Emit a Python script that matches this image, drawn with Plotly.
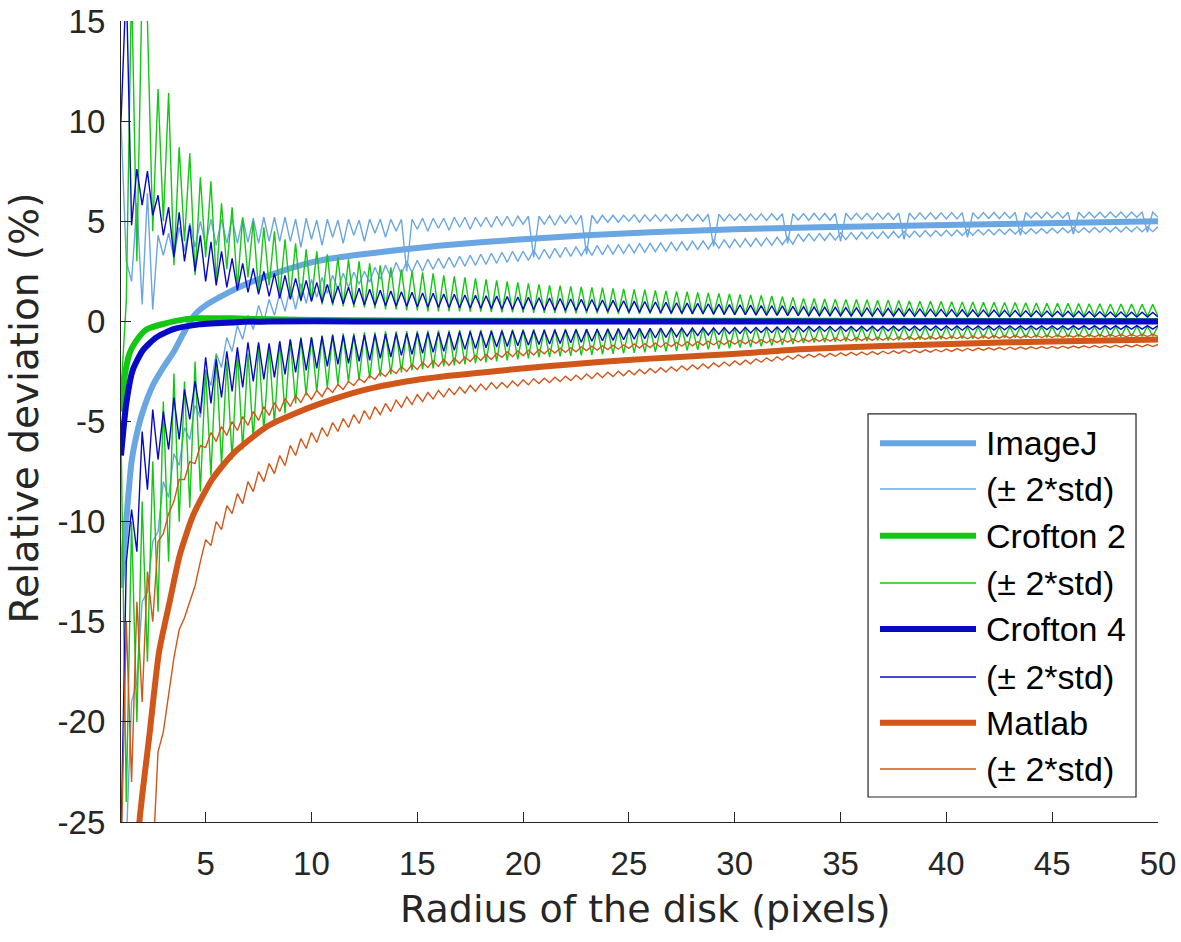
import numpy as np
import plotly.graph_objects as go

# ---------- data ----------
# std bands are sampled every 0.25 px of radius, 1 .. 50 (197 points)
RADIUS = np.arange(1.0, 50.0001, 0.25)

# ImageJ
IJ_MEAN_X = [1, 1.25, 1.5, 1.75, 2, 2.5, 3, 3.5, 4, 4.5, 5, 6, 7, 8, 9, 10, 11, 12,
             14, 16, 18, 20, 23, 26, 30, 34, 38, 42, 46, 50]
IJ_MEAN = [-13.3, -9.9, -7.0, -5.6, -4.6, -3.2, -2.3, -1.5, -0.5, 0.35, 0.8, 1.4, 1.9, 2.3,
           2.65, 2.95, 3.15, 3.3, 3.55, 3.78, 3.95, 4.1, 4.3, 4.45, 4.6, 4.7, 4.78, 4.85,
           4.92, 5.0]
IJ_UP = [
    10.0, 3.0, 2.0, 5.9, 0.85, 6.4, 0.6, 4.3,
    3.3, 4.4, 3.2, 4.7, 3.5, 4.9, 3.7, 5.0,
    3.8, 5.1, 3.8, 5.1, 3.9, 5.15, 3.9, 5.15,
    3.95, 5.15, 3.9, 5.2, 4.0, 5.2, 4.0, 5.2,
    4.0, 5.1, 3.7, 5.15, 4.1, 5.05, 3.8, 5.1,
    4.2, 5.05, 3.9, 5.1, 4.3, 5.05, 4.0, 5.1,
    4.4, 5.1, 4.2, 5.1, 4.5, 5.1, 2.5, 5.1,
    4.6, 5.15, 4.5, 5.15, 4.65, 5.15, 4.55, 5.2,
    4.7, 5.2, 4.6, 5.2, 4.75, 5.2, 4.7, 5.25,
    4.8, 5.25, 4.75, 5.25, 4.85, 5.25, 3.2, 5.25,
    4.85, 5.28, 4.8, 5.28, 4.9, 5.28, 4.85, 5.3,
    3.35, 5.3, 4.9, 5.3, 4.95, 5.3, 4.95, 5.3,
    5.0, 5.32, 4.95, 5.32, 5.0, 5.32, 5.0, 5.33,
    5.0, 5.33, 5.0, 5.34, 5.02, 5.34, 5.0, 5.35,
    3.75, 5.35, 5.02, 5.35, 5.05, 5.36, 5.03, 5.36,
    5.05, 5.37, 5.04, 5.37, 5.06, 5.38, 3.9, 5.38,
    5.06, 5.38, 5.05, 5.39, 5.07, 5.39, 5.06, 5.39,
    4.0, 5.4, 5.08, 5.4, 5.09, 5.4, 5.08, 5.41,
    5.1, 5.41, 5.09, 5.41, 4.1, 5.41, 5.1, 5.42,
    5.12, 5.42, 5.11, 5.42, 5.12, 5.43, 5.12, 5.43,
    4.2, 5.43, 5.13, 5.43, 5.14, 5.44, 5.13, 5.44,
    5.15, 5.44, 4.3, 5.44, 5.16, 5.44, 5.15, 5.45,
    5.17, 5.45, 5.16, 5.45, 4.35, 5.45, 5.17, 5.45,
    5.18, 5.45, 5.18, 5.46, 5.19, 5.46, 5.18, 5.46,
    5.2, 5.46, 4.45, 5.46, 5.2,
]
IJ_LO = [
    -30.0, -26.0, -19.0, -18.0, -14.0, -13.5, -11.0, -10.5,
    -8.0, -8.8, -6.6, -7.2, -5.3, -5.9, -4.2, -4.8,
    -2.5, -3.2, -1.6, -2.3, -0.8, -1.5, -0.2, -0.9,
    0.3, -0.4, 0.8, 0.0, 1.1, 0.3, 1.4, 0.5,
    1.7, 0.6, 1.9, 0.9, 2.1, 1.2, 2.2, 1.4,
    2.3, 1.6, 2.4, 1.7, 2.45, 1.85, 2.5, 1.95,
    2.7, 2.1, 2.8, 2.2, 2.95, 2.35, 3.0, 2.45,
    3.05, 2.5, 3.1, 2.6, 3.15, 2.65, 3.2, 2.7,
    3.25, 2.75, 3.3, 2.8, 3.35, 2.85, 3.4, 2.9,
    3.45, 2.95, 3.5, 3.0, 3.5, 3.05, 3.55, 3.1,
    3.6, 3.15, 3.65, 3.2, 3.7, 3.25, 3.72, 3.28,
    3.75, 3.3, 3.78, 3.33, 3.8, 3.36, 3.82, 3.39,
    3.85, 3.42, 3.88, 3.45, 3.9, 3.48, 3.92, 3.5,
    3.95, 3.53, 3.97, 3.56, 4.0, 3.59, 4.02, 3.62,
    4.05, 3.65, 4.07, 3.68, 4.1, 3.71, 4.12, 3.74,
    4.15, 3.77, 4.17, 3.8, 4.2, 3.83, 4.22, 3.86,
    4.35, 4.0, 4.37, 4.02, 4.38, 4.04, 4.4, 4.06,
    4.42, 4.08, 4.43, 4.1, 4.45, 4.12, 4.46, 4.14,
    4.48, 4.16, 4.49, 4.18, 4.5, 4.2, 4.51, 4.22,
    4.53, 4.24, 4.54, 4.26, 4.55, 4.27, 4.56, 4.29,
    4.57, 4.3, 4.58, 4.32, 4.59, 4.33, 4.6, 4.35,
    4.61, 4.36, 4.62, 4.37, 4.63, 4.39, 4.64, 4.4,
    4.65, 4.41, 4.66, 4.42, 4.67, 4.43, 4.68, 4.44,
    4.69, 4.45, 4.7, 4.46, 4.71, 4.46, 4.71, 4.47,
    4.72, 4.47, 4.72, 4.48, 4.72,
]

# Crofton 2
C2_MEAN_X = [1, 1.15, 1.4, 1.7, 2.2, 3.1, 4, 4.7, 6.3, 8, 12, 20, 30, 40, 50]
C2_MEAN = [-4.5, -2.9, -1.6, -1.0, -0.4, -0.1, 0.1, 0.15, 0.15, 0.1, 0.05, 0.03, 0.03,
           0.02, 0.02]
C2_UP = [
    -3.5, 1.0, 17.0, 3.0, 17.0, 15.0, 4.5, 11.6,
    5.0, 11.4, 2.8, 8.7, 4.0, 8.4, 2.3, 7.2,
    3.2, 7.0, 2.0, 5.9, 2.6, 5.7, 1.7, 5.2,
    2.2, 5.0, 1.5, 4.7, 1.8, 4.5, 1.3, 4.1,
    1.3, 3.9, 1.0, 3.6, 1.0, 3.5, 0.85, 3.35,
    0.8, 3.2, 0.75, 3.1, 0.7, 3.0, 0.7, 2.9,
    0.65, 2.8, 0.6, 2.7, 0.6, 2.6, 0.55, 2.5,
    0.55, 2.45, 0.5, 2.4, 0.5, 2.3, 0.5, 2.25,
    0.5, 2.2, 0.48, 2.15, 0.48, 2.1, 0.46, 2.05,
    0.45, 2.0, 0.45, 1.95, 0.44, 1.9, 0.43, 1.85,
    0.42, 1.8, 0.42, 1.78, 0.41, 1.75, 0.4, 1.72,
    0.4, 1.7, 0.4, 1.68, 0.39, 1.65, 0.38, 1.62,
    0.38, 1.6, 0.37, 1.58, 0.37, 1.55, 0.36, 1.52,
    0.36, 1.5, 0.35, 1.48, 0.35, 1.45, 0.35, 1.42,
    0.34, 1.4, 0.34, 1.37, 0.34, 1.35, 0.33, 1.32,
    0.33, 1.3, 0.33, 1.27, 0.32, 1.23, 0.32, 1.2,
    0.32, 1.15, 0.32, 1.14, 0.31, 1.12, 0.31, 1.11,
    0.31, 1.1, 0.31, 1.09, 0.3, 1.08, 0.3, 1.06,
    0.3, 1.05, 0.3, 1.04, 0.3, 1.02, 0.3, 1.01,
    0.3, 1.0, 0.3, 0.99, 0.29, 0.98, 0.29, 0.97,
    0.29, 0.97, 0.29, 0.96, 0.29, 0.95, 0.29, 0.94,
    0.28, 0.94, 0.28, 0.93, 0.28, 0.92, 0.28, 0.91,
    0.28, 0.9, 0.28, 0.9, 0.27, 0.89, 0.27, 0.88,
    0.27, 0.88, 0.27, 0.87, 0.27, 0.86, 0.27, 0.86,
    0.26, 0.85, 0.26, 0.85, 0.26,
]
C2_LO = [
    -5.5, -24.0, -10.0, -20.0, -9.0, -17.0, -7.0, -14.5,
    -4.0, -12.0, -2.6, -10.0, -3.0, -9.3, -2.0, -8.5,
    -2.4, -7.7, -1.7, -7.2, -2.0, -6.9, -1.5, -6.4,
    -1.6, -5.9, -1.2, -5.5, -1.3, -5.1, -1.0, -4.6,
    -0.95, -4.1, -0.8, -3.7, -0.8, -3.5, -0.7, -3.3,
    -0.65, -3.15, -0.6, -3.05, -0.6, -2.95, -0.55, -2.85,
    -0.55, -2.75, -0.5, -2.65, -0.5, -2.55, -0.48, -2.45,
    -0.47, -2.4, -0.46, -2.35, -0.45, -2.25, -0.45, -2.2,
    -0.44, -2.15, -0.43, -2.1, -0.42, -2.05, -0.42, -2.0,
    -0.41, -1.95, -0.4, -1.9, -0.4, -1.85, -0.39, -1.8,
    -0.39, -1.78, -0.38, -1.75, -0.38, -1.72, -0.37, -1.7,
    -0.37, -1.67, -0.36, -1.65, -0.36, -1.62, -0.35, -1.6,
    -0.35, -1.57, -0.35, -1.55, -0.34, -1.52, -0.34, -1.5,
    -0.34, -1.47, -0.33, -1.45, -0.33, -1.42, -0.33, -1.4,
    -0.32, -1.37, -0.32, -1.34, -0.32, -1.31, -0.31, -1.28,
    -0.31, -1.25, -0.31, -1.21, -0.3, -1.17, -0.3, -1.13,
    -0.3, -1.08, -0.3, -1.06, -0.3, -1.04, -0.29, -1.02,
    -0.29, -1.0, -0.29, -0.99, -0.29, -0.98, -0.28, -0.96,
    -0.28, -0.95, -0.28, -0.94, -0.28, -0.92, -0.28, -0.91,
    -0.28, -0.9, -0.27, -0.89, -0.27, -0.88, -0.27, -0.87,
    -0.27, -0.86, -0.27, -0.85, -0.26, -0.84, -0.26, -0.83,
    -0.26, -0.82, -0.26, -0.81, -0.26, -0.8, -0.25, -0.8,
    -0.25, -0.79, -0.25, -0.78, -0.25, -0.78, -0.25, -0.77,
    -0.25, -0.77, -0.24, -0.76, -0.24, -0.76, -0.24, -0.75,
    -0.24, -0.75, -0.24, -0.74, -0.24,
]

# Crofton 4
C4_MEAN_X = [1, 1.25, 1.55, 2.03, 2.67, 3.45, 4.7, 6.3, 8, 12, 20, 30, 40, 50]
C4_MEAN = [-6.7, -4.1, -2.45, -1.45, -0.8, -0.4, -0.15, -0.05, 0.0, 0.0, 0.0, 0.0, 0.0, 0.0]
C4_UP = [
    10.0, 17.0, 4.8, 7.6, 5.8, 7.5, 5.3, 6.3,
    4.3, 5.7, 3.2, 5.45, 3.0, 4.8, 2.5, 4.3,
    2.0, 3.97, 1.8, 3.5, 1.7, 3.15, 1.55, 2.9,
    1.45, 2.65, 1.35, 2.5, 1.25, 2.4, 1.15, 2.3,
    1.1, 2.15, 1.05, 2.05, 1.0, 1.95, 0.95, 1.85,
    0.9, 1.75, 0.88, 1.7, 0.85, 1.65, 0.82, 1.6,
    0.8, 1.55, 0.78, 1.52, 0.76, 1.48, 0.75, 1.45,
    0.73, 1.42, 0.72, 1.4, 0.7, 1.37, 0.69, 1.35,
    0.68, 1.32, 0.67, 1.3, 0.66, 1.28, 0.65, 1.26,
    0.62, 1.24, 0.61, 1.22, 0.6, 1.2, 0.59, 1.18,
    0.57, 1.16, 0.56, 1.14, 0.55, 1.12, 0.54, 1.1,
    0.52, 1.09, 0.51, 1.07, 0.5, 1.05, 0.49, 1.03,
    0.46, 1.01, 0.45, 0.99, 0.44, 0.97, 0.43, 0.95,
    0.41, 0.93, 0.4, 0.91, 0.39, 0.9, 0.38, 0.88,
    0.36, 0.86, 0.35, 0.84, 0.34, 0.83, 0.33, 0.81,
    0.31, 0.79, 0.3, 0.78, 0.3, 0.77, 0.29, 0.75,
    0.28, 0.73, 0.27, 0.72, 0.27, 0.71, 0.27, 0.7,
    0.27, 0.69, 0.26, 0.68, 0.26, 0.67, 0.26, 0.66,
    0.26, 0.65, 0.26, 0.64, 0.25, 0.63, 0.25, 0.62,
    0.25, 0.61, 0.25, 0.6, 0.25, 0.59, 0.24, 0.58,
    0.24, 0.57, 0.24, 0.56, 0.24, 0.56, 0.24, 0.55,
    0.23, 0.54, 0.23, 0.53, 0.23, 0.53, 0.23, 0.52,
    0.23, 0.51, 0.23, 0.5, 0.22, 0.5, 0.22, 0.49,
    0.22, 0.48, 0.22, 0.47, 0.22, 0.47, 0.22, 0.46,
    0.22, 0.46, 0.22, 0.45, 0.22,
]
C4_LO = [
    -26.0, -12.0, -9.4, -11.5, -5.5, -8.4, -4.4, -6.9,
    -4.5, -6.4, -3.8, -5.9, -3.4, -4.9, -3.0, -4.6,
    -1.8, -4.1, -1.9, -3.8, -1.5, -3.5, -1.3, -3.3,
    -1.05, -3.0, -1.05, -2.9, -1.1, -2.8, -1.0, -2.65,
    -0.9, -2.55, -0.85, -2.45, -0.8, -2.35, -0.75, -2.25,
    -0.7, -2.15, -0.7, -2.1, -0.7, -2.0, -0.68, -1.95,
    -0.65, -1.85, -0.63, -1.78, -0.6, -1.7, -0.6, -1.65,
    -0.58, -1.6, -0.56, -1.55, -0.55, -1.5, -0.54, -1.45,
    -0.52, -1.4, -0.51, -1.36, -0.5, -1.32, -0.49, -1.28,
    -0.48, -1.25, -0.47, -1.22, -0.46, -1.19, -0.45, -1.16,
    -0.44, -1.13, -0.43, -1.1, -0.42, -1.07, -0.41, -1.04,
    -0.4, -0.99, -0.39, -0.97, -0.38, -0.95, -0.37, -0.92,
    -0.36, -0.89, -0.35, -0.86, -0.35, -0.83, -0.34, -0.8,
    -0.34, -0.77, -0.33, -0.74, -0.33, -0.71, -0.32, -0.68,
    -0.32, -0.65, -0.31, -0.62, -0.31, -0.6, -0.3, -0.58,
    -0.3, -0.56, -0.29, -0.55, -0.28, -0.54, -0.27, -0.53,
    -0.26, -0.52, -0.26, -0.51, -0.25, -0.5, -0.25, -0.5,
    -0.25, -0.49, -0.25, -0.49, -0.24, -0.48, -0.24, -0.48,
    -0.24, -0.47, -0.24, -0.47, -0.24, -0.46, -0.24, -0.46,
    -0.23, -0.45, -0.23, -0.45, -0.23, -0.44, -0.23, -0.44,
    -0.23, -0.43, -0.23, -0.43, -0.23, -0.43, -0.22, -0.42,
    -0.22, -0.42, -0.22, -0.42, -0.22, -0.41, -0.22, -0.41,
    -0.22, -0.41, -0.22, -0.41, -0.21, -0.4, -0.21, -0.4,
    -0.21, -0.4, -0.21, -0.4, -0.21, -0.4, -0.21, -0.39,
    -0.21, -0.39, -0.21, -0.39, -0.21,
]

# Matlab
ML_MEAN_X = [1, 1.5, 1.87, 2.35, 2.8, 3.3, 3.77, 4.4, 5.3, 6.3, 7.9, 9.45, 11, 12.6, 14.2,
             16.5, 18.9, 21, 23.6, 26, 28.4, 31, 33.1, 37, 41, 45, 50]
ML_MEAN = [-45, -32, -25, -20.6, -16.5, -14.0, -11.7, -9.7, -7.9, -6.6, -5.25, -4.5, -3.9,
           -3.4, -3.05, -2.72, -2.46, -2.25, -2.03, -1.86, -1.72, -1.55, -1.39, -1.23,
           -1.1, -1.0, -0.9]
ML_UP = [
    -27.0, -15.0, -23.0, -14.0, -19.0, -12.5, -15.0, -11.0,
    -10.6, -9.6, -9.0, -7.9, -7.9, -7.0, -7.1, -6.2,
    -6.3, -5.55, -6.0, -5.25, -5.7, -5.0, -5.45, -4.75,
    -5.2, -4.5, -4.95, -4.25, -4.7, -4.05, -4.5, -3.85,
    -4.25, -3.7, -4.05, -3.55, -3.9, -3.45, -3.75, -3.3,
    -3.55, -3.15, -3.4, -3.0, -3.2, -2.85, -3.05, -2.7,
    -2.9, -2.55, -2.75, -2.4, -2.6, -2.25, -2.5, -2.15,
    -2.4, -2.05, -2.3, -1.97, -2.25, -1.9, -2.2, -1.85,
    -2.1, -1.78, -2.0, -1.7, -1.95, -1.65, -1.9, -1.6,
    -1.8, -1.52, -1.76, -1.48, -1.72, -1.44, -1.68, -1.4,
    -1.62, -1.37, -1.58, -1.34, -1.55, -1.31, -1.52, -1.28,
    -1.46, -1.24, -1.44, -1.21, -1.41, -1.19, -1.39, -1.17,
    -1.35, -1.13, -1.33, -1.11, -1.31, -1.09, -1.29, -1.07,
    -1.26, -1.05, -1.24, -1.03, -1.22, -1.01, -1.2, -0.99,
    -1.18, -0.98, -1.16, -0.96, -1.14, -0.95, -1.12, -0.93,
    -1.1, -0.91, -1.08, -0.9, -1.06, -0.88, -1.04, -0.87,
    -1.03, -0.86, -1.01, -0.85, -1.0, -0.84, -0.99, -0.83,
    -0.98, -0.82, -0.97, -0.81, -0.96, -0.8, -0.95, -0.79,
    -0.94, -0.79, -0.93, -0.78, -0.92, -0.77, -0.91, -0.76,
    -0.9, -0.76, -0.89, -0.75, -0.88, -0.74, -0.87, -0.73,
    -0.87, -0.73, -0.86, -0.72, -0.85, -0.71, -0.84, -0.71,
    -0.84, -0.7, -0.83, -0.7, -0.82, -0.69, -0.81, -0.69,
    -0.81, -0.68, -0.8, -0.68, -0.79, -0.67, -0.79, -0.67,
    -0.78, -0.66, -0.78, -0.66, -0.77, -0.65, -0.77, -0.65,
    -0.76, -0.64, -0.76, -0.64, -0.75,
]
ML_LO = [
    -40.0, -38.0, -36.0, -34.0, -32.0, -30.0, -27.0, -21.5,
    -20.5, -18.6, -16.8, -15.4, -14.8, -14.0, -13.2, -12.0,
    -10.9, -11.2, -10.0, -10.4, -9.2, -9.6, -8.6, -9.1,
    -8.0, -8.5, -7.5, -8.0, -7.1, -7.6, -6.7, -7.2,
    -6.2, -6.7, -5.85, -6.35, -5.55, -6.05, -5.3, -5.75,
    -5.05, -5.5, -4.85, -5.3, -4.65, -5.1, -4.45, -4.9,
    -4.27, -4.65, -4.1, -4.5, -3.93, -4.3, -3.77, -4.15,
    -3.65, -4.0, -3.55, -3.88, -3.45, -3.77, -3.36, -3.66,
    -3.28, -3.58, -3.2, -3.5, -3.13, -3.42, -3.06, -3.35,
    -3.05, -3.3, -2.98, -3.23, -2.92, -3.17, -2.86, -3.1,
    -2.84, -3.06, -2.79, -3.01, -2.74, -2.96, -2.69, -2.91,
    -2.63, -2.86, -2.58, -2.81, -2.54, -2.76, -2.49, -2.72,
    -2.45, -2.67, -2.4, -2.62, -2.35, -2.57, -2.31, -2.53,
    -2.27, -2.48, -2.22, -2.43, -2.18, -2.38, -2.13, -2.34,
    -2.08, -2.27, -2.03, -2.22, -1.98, -2.17, -1.94, -2.12,
    -1.87, -2.04, -1.82, -1.99, -1.77, -1.94, -1.73, -1.89,
    -1.67, -1.82, -1.65, -1.79, -1.62, -1.77, -1.6, -1.74,
    -1.57, -1.71, -1.55, -1.69, -1.53, -1.67, -1.51, -1.65,
    -1.49, -1.62, -1.47, -1.6, -1.45, -1.58, -1.43, -1.56,
    -1.42, -1.54, -1.4, -1.52, -1.38, -1.5, -1.36, -1.48,
    -1.35, -1.46, -1.33, -1.44, -1.32, -1.43, -1.31, -1.42,
    -1.29, -1.4, -1.28, -1.39, -1.27, -1.37, -1.26, -1.36,
    -1.25, -1.35, -1.24, -1.34, -1.23, -1.33, -1.22, -1.32,
    -1.21, -1.31, -1.2, -1.3, -1.19, -1.29, -1.18, -1.28,
    -1.17, -1.27, -1.16, -1.26, -1.15,
]

X_TICKS = [5, 10, 15, 20, 25, 30, 35, 40, 45, 50]
Y_TICKS = [-25, -20, -15, -10, -5, 0, 5, 10, 15]

LEGEND_LABELS = ['ImageJ', '(\u00b1 2*std)', 'Crofton 2', '(\u00b1 2*std)',
                 'Crofton 4', '(\u00b1 2*std)', 'Matlab', '(\u00b1 2*std)']

# ---------- colours / fonts ----------
C_IJ = '#6aa7e2'
C_C2 = '#12c812'
C_C4 = '#0808c8'
C_ML = '#d0561a'
INK = '#262626'
FONT = 'Arial, Liberation Sans, sans-serif'
TITLE_FONT = 'DejaVu Sans, sans-serif'

for band in (IJ_UP, IJ_LO, C2_UP, C2_LO, C4_UP, C4_LO, ML_UP, ML_LO):
    assert len(band) == len(RADIUS)

fig = go.Figure()


def add_series(mx, my, up, lo, color):
    fig.add_trace(go.Scatter(x=mx, y=my, mode='lines',
                             line=dict(color=color, width=6, shape='spline', smoothing=0.6),
                             showlegend=False, hoverinfo='skip'))
    for band in (up, lo):
        fig.add_trace(go.Scatter(x=RADIUS, y=band, mode='lines',
                                 line=dict(color=color, width=1.4),
                                 showlegend=False, hoverinfo='skip'))


add_series(IJ_MEAN_X, IJ_MEAN, IJ_UP, IJ_LO, C_IJ)
add_series(C2_MEAN_X, C2_MEAN, C2_UP, C2_LO, C_C2)
add_series(C4_MEAN_X, C4_MEAN, C4_UP, C4_LO, C_C4)
add_series(ML_MEAN_X, ML_MEAN, ML_UP, ML_LO, C_ML)

# ---------- legend (matlab style, drawn by hand) ----------
# paper coords of the plot area: 121..1158 px across, 21..822 px down
shapes = [dict(type='rect', xref='paper', yref='paper', x0=0.7204, x1=0.9788,
               y0=0.0312, y1=0.5094, line=dict(color=INK, width=1.2),
               fillcolor='white', layer='above')]
annots = []
leg_colors = [C_IJ, C_IJ, C_C2, C_C2, C_C4, C_C4, C_ML, C_ML]
row_y = [0.4728, 0.4157, 0.3574, 0.2984, 0.2410, 0.1810, 0.1240, 0.0662]
for k, (lab, col, yy) in enumerate(zip(LEGEND_LABELS, leg_colors, row_y)):
    shapes.append(dict(type='line', xref='paper', yref='paper', x0=0.7319, x1=0.8245,
                       y0=yy, y1=yy, layer='above',
                       line=dict(color=col, width=6 if k % 2 == 0 else 1.4)))
    annots.append(dict(text=lab, xref='paper', yref='paper', x=0.8322, y=yy,
                       xanchor='left', yanchor='middle', showarrow=False,
                       font=dict(family=FONT, size=34, color='black')))

# axis titles
annots.append(dict(text='Radius of the disk (pixels)', xref='paper', yref='paper',
                   x=0.506, y=-0.1086, xanchor='center', yanchor='middle', showarrow=False,
                   font=dict(family=TITLE_FONT, size=38, color=INK)))
annots.append(dict(text='Relative deviation (%)', xref='paper', yref='paper',
                   x=-0.093, y=0.517, xanchor='center', yanchor='middle', showarrow=False,
                   textangle=-90, font=dict(family=TITLE_FONT, size=39, color=INK)))

axis_common = dict(showgrid=False, zeroline=False, showline=True, linecolor=INK,
                   linewidth=1.2, ticks='inside', ticklen=10, tickwidth=1.2,
                   tickcolor=INK, mirror=False, ticklabeloverflow='allow',
                   automargin=False,
                   tickfont=dict(family=FONT, size=33, color=INK))

fig.update_layout(
    width=1181, height=942,
    margin=dict(l=121, r=23, t=21, b=120, autoexpand=False),
    paper_bgcolor='white', plot_bgcolor='white',
    showlegend=False,
    shapes=shapes, annotations=annots,
    xaxis=dict(range=[1, 50], tickvals=X_TICKS, ticktext=[str(v) for v in X_TICKS],
               ticklabelstandoff=12, **axis_common),
    yaxis=dict(range=[-25, 15], tickvals=Y_TICKS, ticktext=[str(v) for v in Y_TICKS],
               ticklabelstandoff=8, **axis_common),
)

# the page has a default 8px body margin; drop it so the figure sits at 0,0
fig.write_html("out.html", config={'displayModeBar': False},
               post_script="document.body.style.margin = '0';")
